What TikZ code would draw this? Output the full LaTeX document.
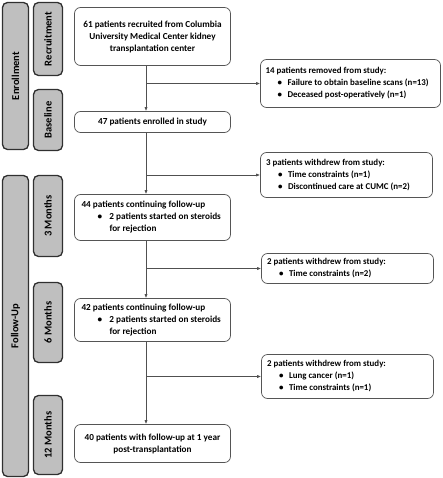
\documentclass[tikz,border=0pt]{standalone}
\usepackage{fontspec}
\setmainfont{Carlito}
\usetikzlibrary{arrows.meta,calc}
\definecolor{barfill}{HTML}{BFBFBF}
\definecolor{bardraw}{HTML}{303030}
\definecolor{boxdraw}{HTML}{555555}
\definecolor{linecol}{HTML}{505050}
\tikzset{
  bar/.style={draw=bardraw, line width=1.3pt, fill=barfill, rounded corners=5pt, inner sep=0pt},
  barlabel/.style={rotate=90, font=\fontsize{10.5}{12}\selectfont\bfseries},
  mainbox/.style={draw=boxdraw, line width=0.7pt, rounded corners=6pt, inner sep=0pt, font=\fontsize{9.2}{12}\selectfont\bfseries},
  sidebox/.style={mainbox, font=\fontsize{8.9}{12}\selectfont\bfseries},
  flow/.style={draw=linecol, line width=0.7pt, -{Latex[length=4pt,width=3.2pt]}},
}
\newcommand{\bx}[1]{\makebox[#1][l]{\textbullet}}
\begin{document}
\begin{tikzpicture}[x=1pt,y=-1pt]
\useasboundingbox (0,0) rectangle (442,478);
% category bars
\node[bar, minimum width=26pt, minimum height=147pt] (enr) at (15.5,76) {};
\node[barlabel] (enrl) at (enr.center) {Enrollment};
\node[bar, minimum width=29pt, minimum height=73pt] (rec) at (48,39) {};
\node[barlabel] (recl) at (rec.center) {Recruitment};
\node[bar, minimum width=29pt, minimum height=61pt] (bas) at (48,120) {};
\node[barlabel] (basl) at (bas.center) {Baseline};
\node[bar, minimum width=26pt, minimum height=301pt] (fol) at (15.5,326) {};
\node[barlabel] (foll) at (fol.center) {Follow-Up};
\node[bar, minimum width=29pt, minimum height=81pt] (m3) at (48,216) {};
\node[barlabel] (m3l) at (m3.center) {3 Months};
\node[bar, minimum width=29pt, minimum height=80pt] (m6) at (48,322.5) {};
\node[barlabel] (m6l) at (m6.center) {6 Months};
\node[bar, minimum width=29pt, minimum height=79pt] (m12) at (48,435) {};
\node[barlabel] (m12l) at (m12.center) {12 Months};
% main boxes
\node[mainbox, minimum width=156pt, minimum height=58pt, align=center] (b1) at (152.5,36.5)
  {61 patients recruited from Columbia\\University Medical Center kidney\\transplantation center};
\node[mainbox, minimum width=156pt, minimum height=21pt, align=center] (b2) at (152.5,122)
  {47 patients enrolled in study};
\node[mainbox, minimum width=156pt, minimum height=46pt] (b3) at (152.5,217.5)
  {\parbox{142pt}{44 patients continuing follow-up\\\hspace*{16pt}\bx{12pt}2 patients started on steroids\\\hspace*{28pt}for rejection}};
\node[mainbox, minimum width=156pt, minimum height=43pt] (b4) at (152.5,320)
  {\parbox{142pt}{42 patients continuing follow-up\\\hspace*{16pt}\bx{12pt}2 patients started on steroids\\\hspace*{28pt}for rejection}};
\node[mainbox, minimum width=156pt, minimum height=38pt, align=center] (b5) at (152.5,443.5)
  {40 patients with follow-up at 1 year\\post-transplantation};
% side boxes
\node[sidebox, minimum width=180pt, minimum height=48pt] (s1) at (350.5,83.5)
  {\parbox{170pt}{14 patients removed from study:\\\hspace*{12pt}\bx{10pt}Failure to obtain baseline scans (n=13)\\\hspace*{12pt}\bx{10pt}Deceased post-operatively (n=1)}};
\node[sidebox, minimum width=172pt, minimum height=45pt] (s2) at (346.5,175)
  {\parbox{161pt}{3 patients withdrew from study:\\\hspace*{12pt}\bx{10pt}Time constraints (n=1)\\\hspace*{12pt}\bx{10pt}Discontinued care at CUMC (n=2)}};
\node[sidebox, minimum width=172pt, minimum height=30pt] (s3) at (347.5,268.5)
  {\parbox{161pt}{2 patients withdrew from study:\\\hspace*{12pt}\bx{10pt}Time constraints (n=2)}};
\node[sidebox, minimum width=172pt, minimum height=44pt] (s4) at (347.5,376.5)
  {\parbox{161pt}{2 patients withdrew from study:\\\hspace*{12pt}\bx{10pt}Lung cancer (n=1)\\\hspace*{12pt}\bx{10pt}Time constraints (n=1)}};
% connectors
\coordinate (ax) at (146,0);
\draw[flow] (b1.south -| ax) -- (b2.north -| ax);
\draw[flow] (ax |- s1.west) -- (s1.west);
\draw[flow] (b2.south -| ax) -- (b3.north -| ax);
\draw[flow] (ax |- s2.west) -- (s2.west);
\draw[flow] (b3.south -| ax) -- (b4.north -| ax);
\draw[flow] (ax |- s3.west) -- (s3.west);
\draw[flow] (b4.south -| ax) -- (b5.north -| ax);
\draw[flow] (ax |- s4.west) -- (s4.west);
\end{tikzpicture}
\end{document}
